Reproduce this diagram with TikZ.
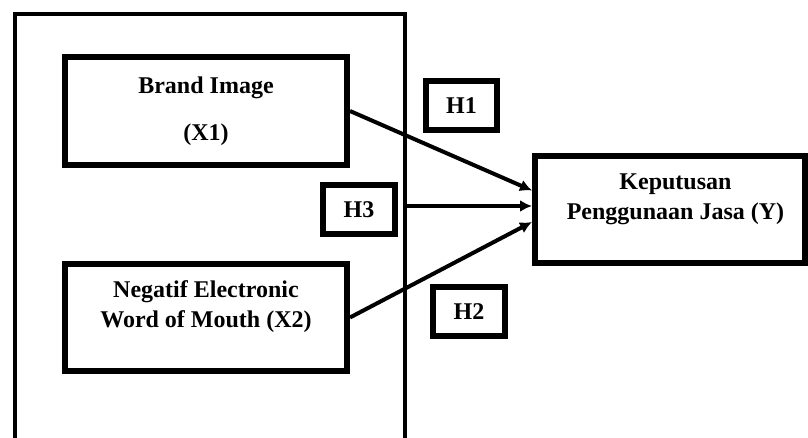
\documentclass[tikz,border=0pt]{standalone}
\usepackage{fontspec}
\setmainfont{Liberation Serif}
\usetikzlibrary{arrows.meta}
\tikzset{
	var/.style={draw,line width=0.12cm,minimum width=5.64cm,minimum height=2.15cm,inner sep=0pt},
	hyp/.style={draw,line width=0.12cm,minimum width=1.43cm,minimum height=0.98cm,inner sep=0pt,font=\bfseries\fontsize{13.66}{16}\selectfont},
	lbl/.style={align=center,font=\bfseries\fontsize{13.66}{17}\selectfont},
	link/.style={line width=0.08cm,-{Latex[length=0.24cm,width=0.24cm]}}
}
\begin{document}
\begin{tikzpicture}
	\useasboundingbox (0,0) rectangle (16.16,-8.76);
	% frame round the independent variables
	\draw[line width=0.08cm] (0.3,-8.76) -- (0.3,-0.28) -- (8.1,-0.28) -- (8.1,-8.76);
	\coordinate (frame) at (8.1,-4.12);
	% variables
	\node[var,lbl] (x1) at (4.12,-2.22) {Brand Image\\[10pt](X1)};
	\node[var] (x2) at (4.12,-6.35) {};
	\node[lbl] (x2text) at ([yshift=0.22cm]x2.center) {Negatif Electronic\\Word of Mouth (X2)};
	\node[var,minimum width=5.4cm,minimum height=2.14cm] (y) at (13.4,-4.19) {};
	\node[lbl] (ytext) at ([xshift=0.11cm,yshift=0.2cm]y.center) {Keputusan\\Penggunaan Jasa (Y)};
	% hypotheses
	\node[hyp] (h1) at (9.23,-2.12) {H1};
	\node[hyp] (h2) at (9.38,-6.24) {H2};
	\node[hyp] (h3) at (7.18,-4.2) {H3};
	\draw[link] (x1.east) -- ([yshift=0.38cm]y.west);
	\draw[link] (frame) -- (frame -| y.west);
	\draw[link] (x2.east) -- ([yshift=-0.25cm]y.west);
\end{tikzpicture}
\end{document}
